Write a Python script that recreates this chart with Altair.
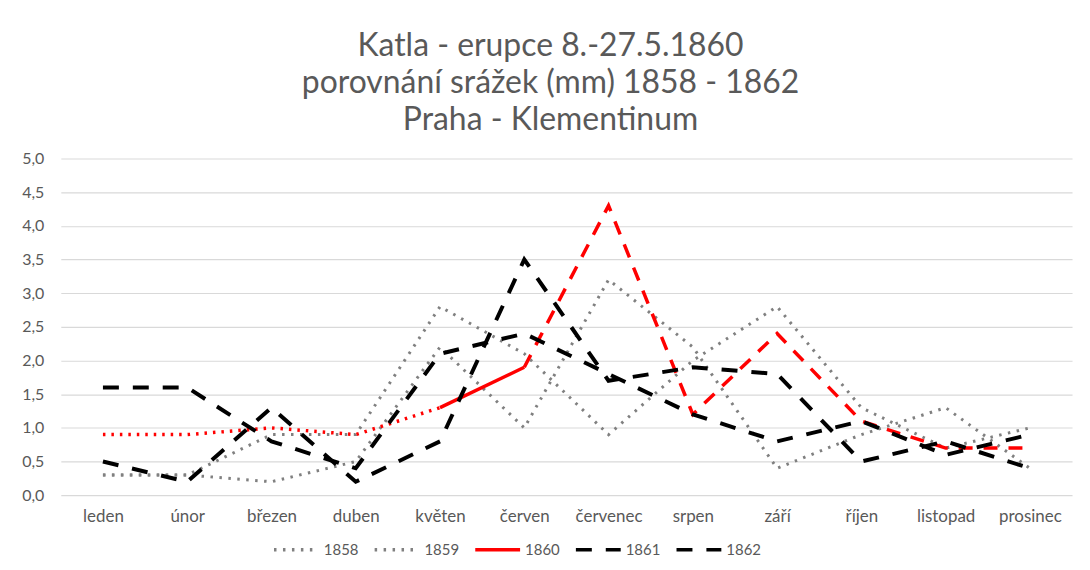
import altair as alt
import pandas as pd

months = ["leden", "únor", "březen", "duben", "květen", "červen",
          "červenec", "srpen", "září", "říjen", "listopad", "prosinec"]
years = ["1858", "1859", "1860", "1861", "1862"]

v1858 = [0.3, 0.3, 0.9, 0.9, 2.8, 2.1, 0.9, 2.0, 2.8, 1.3, 0.7, 1.0]
v1859 = [0.3, 0.3, 0.2, 0.5, 2.2, 1.0, 3.2, 2.2, 0.4, 0.9, 1.3, 0.4]
v1860 = [0.9, 0.9, 1.0, 0.9, 1.3, 1.9, 4.3, 1.2, 2.4, 1.1, 0.7, 0.7]
v1861 = [1.6, 1.6, 0.8, 0.4, 2.1, 2.4, 1.8, 1.2, 0.8, 1.1, 0.6, 0.9]
v1862 = [0.5, 0.2, 1.3, 0.2, 0.8, 3.5, 1.7, 1.9, 1.8, 0.5, 0.8, 0.4]

y_ticks = [0, 0.5, 1, 1.5, 2, 2.5, 3, 3.5, 4, 4.5, 5]

title_lines = ["Katla - erupce 8.-27.5.1860",
               "porovnání srážek (mm) 1858 - 1862",
               "Praha - Klementinum"]

# styles
series_colors = ["#808080", "#808080", "#ff0000", "#000000", "#000000"]
series_dashes = [[2.5, 6.5], [2.5, 6.5], [1, 0], [16, 14], [16, 14]]
TXT = "#595959"


def frame(year, vals):
    return pd.DataFrame({"month": months, "value": vals, "year": year})


gray_df = pd.concat([frame("1858", v1858), frame("1859", v1859)])
black_df = pd.concat([frame("1861", v1861), frame("1862", v1862)])
red_df = frame("1860", v1860)
red_dot = red_df.iloc[0:5]
red_solid = red_df.iloc[4:6]
red_dash = red_df.iloc[5:12]

x_enc = alt.X(
    "month:N", sort=months,
    scale=alt.Scale(type="point", padding=0.5, domain=months),
    axis=alt.Axis(title=None, labelAngle=0, domain=False, ticks=False, grid=False,
                  labelPadding=13, labelFontSize=17, labelColor=TXT, labelFont="Lato"),
)
y_enc = alt.Y(
    "value:Q", scale=alt.Scale(domain=[0, 5]),
    axis=alt.Axis(title=None, values=y_ticks, domain=False, ticks=False,
                  gridColor="#d9d9d9", gridWidth=1.2,
                  labelExpr="replace(format(datum.value, '.1f'), '.', ',')",
                  labelPadding=17, labelFontSize=16, labelColor=TXT, labelFont="Lato"),
)

legend = alt.Legend(
    title=None, orient="none", legendX=212, legendY=368, direction="horizontal",
    symbolType="stroke", symbolSize=2025, symbolStrokeWidth=3.5,
    labelFontSize=15, labelColor=TXT, labelFont="Lato", labelOffset=3,
    columnPadding=9,
)
color_enc = alt.Color("year:N", scale=alt.Scale(domain=years, range=series_colors), legend=legend)
dash_enc = alt.StrokeDash("year:N", scale=alt.Scale(domain=years, range=series_dashes), legend=legend)

gray = alt.Chart(gray_df).mark_line(strokeWidth=3).encode(
    x=x_enc, y=y_enc, color=color_enc, strokeDash=dash_enc, detail="year:N")
black = alt.Chart(black_df).mark_line(strokeWidth=4).encode(
    x=x_enc, y=y_enc, color=color_enc, strokeDash=dash_enc, detail="year:N")

r1 = alt.Chart(red_dot).mark_line(strokeWidth=3.5, color="#ff0000", strokeDash=[2.5, 6]).encode(x=x_enc, y=y_enc)
r2 = alt.Chart(red_solid).mark_line(strokeWidth=3.5, color="#ff0000").encode(x=x_enc, y=y_enc)
r3 = alt.Chart(red_dash).mark_line(strokeWidth=3.5, color="#ff0000", strokeDash=[14, 11]).encode(x=x_enc, y=y_enc)

chart = alt.layer(gray, r1, r2, r3, black).properties(
    width=1015, height=338,
    padding={"left": 53, "top": 150, "right": 10, "bottom": 70},
    autosize=alt.AutoSizeParams(type="none"),
    title=alt.TitleParams(text=title_lines, fontSize=32, font="Lato", color=TXT,
                          fontWeight="normal", lineHeight=37, anchor="middle",
                          offset=14, dx=-16),
).configure(font="Lato", background="white").configure_view(strokeWidth=0)

chart.save("out.html", embed_options={"renderer": "svg", "actions": False})
